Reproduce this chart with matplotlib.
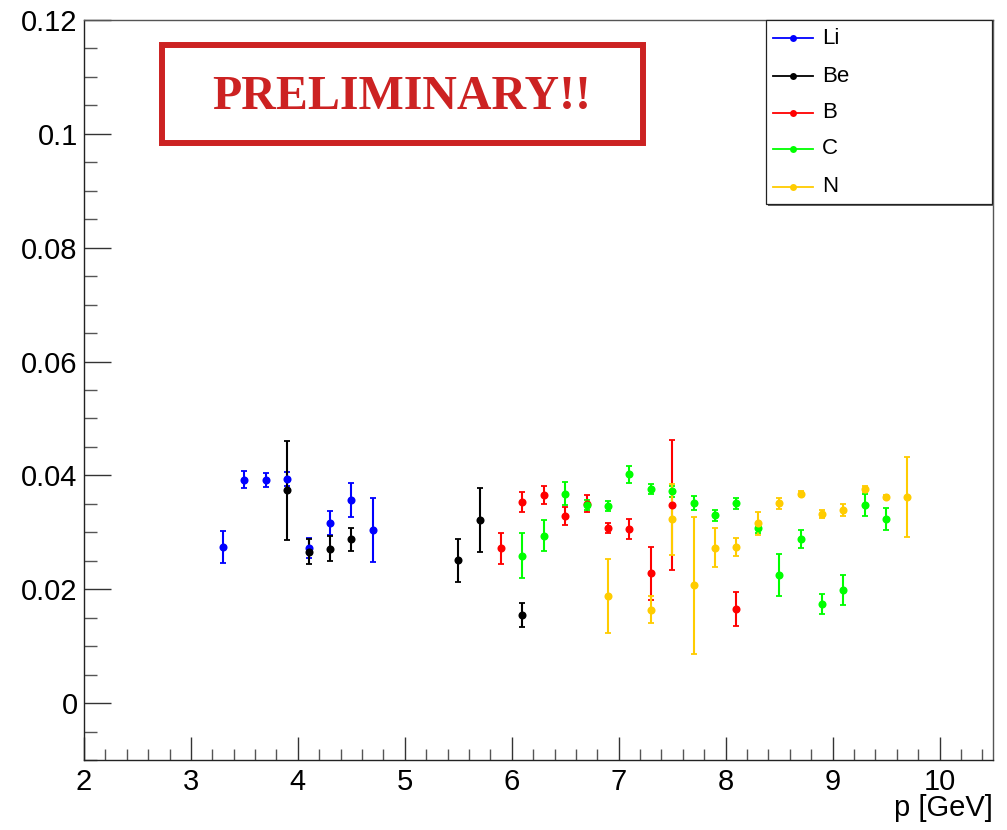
import matplotlib
matplotlib.use("Agg")
import matplotlib.pyplot as plt
from matplotlib.patches import Rectangle
from matplotlib.lines import Line2D
from matplotlib.ticker import MultipleLocator

plt.rcParams['font.family'] = ['Liberation Sans', 'DejaVu Sans']

# ---- data ----
li_x = [3.3, 3.5, 3.7, 3.9, 4.1, 4.3, 4.5, 4.7]
li_y = [0.0274, 0.0392, 0.0392, 0.0394, 0.0272, 0.0316, 0.0357, 0.0304]
li_e = [0.0028, 0.0015, 0.0012, 0.0012, 0.0018, 0.0021, 0.0030, 0.0057]

be_x = [3.9, 4.1, 4.3, 4.5, 5.5, 5.7, 6.1]
be_y = [0.0374, 0.0266, 0.0271, 0.0288, 0.0251, 0.0321, 0.0155]
be_e = [0.0087, 0.0022, 0.0022, 0.0020, 0.0038, 0.0056, 0.0021]

b_x = [5.9, 6.1, 6.3, 6.5, 6.7, 6.9, 7.1, 7.3, 7.5, 8.1]
b_y = [0.0272, 0.0353, 0.0366, 0.0329, 0.0350, 0.0307, 0.0306, 0.0228, 0.0348, 0.0165]
b_e = [0.0027, 0.0018, 0.0016, 0.0016, 0.0015, 0.0009, 0.0018, 0.0047, 0.0115, 0.0030]

c_x = [6.1, 6.3, 6.5, 6.7, 6.9, 7.1, 7.3, 7.5, 7.7, 7.9, 8.1, 8.3, 8.5, 8.7, 8.9, 9.1, 9.3, 9.5]
c_y = [0.0259, 0.0294, 0.0368, 0.0348, 0.0346, 0.0402, 0.0376, 0.0372, 0.0351, 0.0330,
       0.0351, 0.0307, 0.0225, 0.0288, 0.0174, 0.0199, 0.0348, 0.0323]
c_e = [0.0040, 0.0027, 0.0020, 0.0008, 0.0009, 0.0015, 0.0008, 0.0010, 0.0012, 0.0010,
       0.0010, 0.0008, 0.0037, 0.0016, 0.0018, 0.0026, 0.0020, 0.0019]

n_x = [6.9, 7.3, 7.5, 7.7, 7.9, 8.1, 8.3, 8.5, 8.7, 8.9, 9.1, 9.3, 9.5, 9.7]
n_y = [0.0188, 0.0164, 0.0323, 0.0207, 0.0273, 0.0274, 0.0316, 0.0351, 0.0368, 0.0332,
       0.0339, 0.0376, 0.0362, 0.0362]
n_e = [0.0065, 0.0024, 0.0062, 0.0120, 0.0034, 0.0016, 0.0020, 0.0010, 0.0005, 0.0007,
       0.0010, 0.0006, 0.0004, 0.0070]

labels = ['Li', 'Be', 'B', 'C', 'N']
colors = ['#0000ff', '#000000', '#ff0000', '#00ff00', '#ffcc00']
series = [(li_x, li_y, li_e), (be_x, be_y, be_e), (b_x, b_y, b_e),
          (c_x, c_y, c_e), (n_x, n_y, n_e)]

W, H = 1007, 830
fig = plt.figure(figsize=(W / 100, H / 100), dpi=100)

def fx(px):
    return px / W

def fy(py):
    return 1 - py / H

ax = fig.add_axes([fx(84), fy(760), fx(993) - fx(84), fy(20) - fy(760)])
ax.set_xlim(2, 10.5)
ax.set_ylim(-0.01, 0.12)

# error bars first, markers on top
for (x, y, e), col in zip(series, colors):
    ax.errorbar(x, y, yerr=e, fmt='none', ecolor=col, elinewidth=1.5,
                capsize=2.2, capthick=1.3, zorder=2)
for (x, y, e), col in zip(series, colors):
    ax.plot(x, y, 'o', color=col, markersize=5.8, markeredgewidth=0, zorder=3)

# axes style (ROOT-like)
ax.xaxis.set_major_locator(MultipleLocator(1))
ax.xaxis.set_minor_locator(MultipleLocator(0.2))
ax.yaxis.set_major_locator(MultipleLocator(0.02))
ax.yaxis.set_minor_locator(MultipleLocator(0.005))
ax.tick_params(axis='x', which='major', direction='in', length=16.5, width=1,
               labelsize=21, pad=5.5, top=False, color='#333333')
ax.tick_params(axis='x', which='minor', direction='in', length=8, width=1,
               top=False, color='#555555')
ax.tick_params(axis='y', which='major', direction='in', length=19.5, width=1,
               labelsize=21, pad=4.5, right=False, color='#333333')
ax.tick_params(axis='y', which='minor', direction='in', length=9.5, width=1,
               right=False, color='#555555')
ax.set_yticks([0, 0.02, 0.04, 0.06, 0.08, 0.1, 0.12])
ax.set_yticklabels(['0', '0.02', '0.04', '0.06', '0.08', '0.1', '0.12'])
ax.set_xticks([2, 3, 4, 5, 6, 7, 8, 9, 10])
ax.set_xticklabels(['2', '3', '4', '5', '6', '7', '8', '9', '10'])
for s in ax.spines.values():
    s.set_linewidth(1.0)
    s.set_color('#222222')
ax.spines['top'].set_color('#555555')
ax.spines['right'].set_color('#555555')

ax.text(1.0, -0.046, 'p [GeV]', transform=ax.transAxes, ha='right', va='top',
        fontsize=21)

# legend (ROOT TLegend style, drawn manually)
shadow = Rectangle((fx(768), fy(206)), fx(994) - fx(768), fy(22) - fy(206),
                   transform=fig.transFigure, facecolor='#666666', edgecolor='none',
                   zorder=5)
fig.add_artist(shadow)
box = Rectangle((fx(766), fy(204)), fx(992) - fx(766), fy(20) - fy(204),
                transform=fig.transFigure, facecolor='white', edgecolor='#222222',
                linewidth=0.9, zorder=6)
fig.add_artist(box)
rows = [38, 76, 113, 149, 187]
for lab, col, ry in zip(labels, colors, rows):
    fig.add_artist(Line2D([fx(773), fx(813)], [fy(ry), fy(ry)], color=col,
                          linewidth=1.3, transform=fig.transFigure, zorder=7))
    fig.add_artist(Line2D([fx(793)], [fy(ry)], marker='o', color=col,
                          markersize=5, markeredgewidth=0,
                          transform=fig.transFigure, zorder=8))
    fig.text(fx(822), fy(ry), lab, ha='left', va='center', fontsize=16,
             zorder=8)

# PRELIMINARY box
prel = Rectangle((fx(162), fy(143)), fx(643) - fx(162), fy(45) - fy(143),
                 transform=fig.transFigure, facecolor='white', edgecolor='#cc2222',
                 linewidth=4.3, zorder=5)
fig.add_artist(prel)
fig.text(fx(402), fy(97), 'PRELIMINARY!!', ha='center', va='center',
         fontsize=34.5, fontweight='bold', color='#cc2222',
         family=['Liberation Serif', 'DejaVu Serif'], zorder=6)

fig.savefig('out.png', dpi=100)
